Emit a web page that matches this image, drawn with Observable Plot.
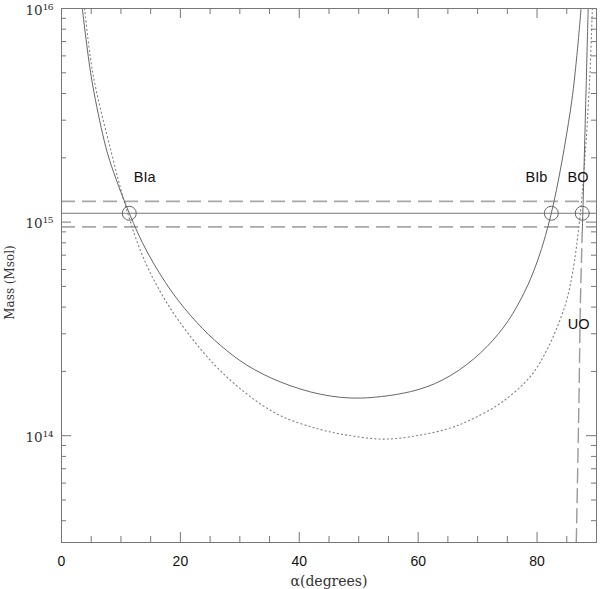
<!DOCTYPE html>
<html><head><meta charset="utf-8">
<script src="https://cdn.jsdelivr.net/npm/d3@7"></script>
<script src="https://cdn.jsdelivr.net/npm/@observablehq/plot@0.6"></script>
<style>body{margin:0;background:#fff}</style>
</head><body><div id="chart"></div>
<script>
// Bound-incoming solution curve (solid)
const bIncAlpha = [3.5, 5.0, 6.9, 8.1, 11.4, 14.4, 18.6, 22.8, 26.7, 31.2, 36.8, 43.6, 50.3, 59.8, 65.4, 70.5, 74.4, 77.2, 79.7, 82.4, 85.6, 86.7, 87.4];
const bIncMass  = [1e16, 4.80e15, 2.60e15, 1.945e15, 1.10e15, 7.26e14, 4.70e14, 3.38e14, 2.655e14, 2.138e14, 1.786e14, 1.563e14, 1.50e14, 1.637e14, 1.91e14, 2.443e14, 3.228e14, 4.315e14, 6.166e14, 1.10e15, 3.319e15, 6.026e15, 1e16];
// Dotted curve
const dotAlpha = [3.9, 5.25, 8.3, 11.1, 13.5, 16.2, 19.7, 25.6, 31.2, 36.8, 43.3, 48.6, 54.2, 59.8, 65.4, 68.8, 73.9, 78.9, 81.7, 83.96, 85.0, 86.0, 87.2, 88.2, 88.9, 89.3];
const dotMass  = [1e16, 5.01e15, 2.163e15, 1.109e15, 7.10e14, 4.955e14, 3.46e14, 2.168e14, 1.567e14, 1.242e14, 1.074e14, 1.0e14, 9.64e13, 1.0e14, 1.086e14, 1.186e14, 1.422e14, 1.897e14, 2.535e14, 3.54e14, 4.335e14, 5.848e14, 1.045e15, 2.286e15, 4.955e15, 1e16];
// Bound-outgoing (solid) and unbound-outgoing (dashed)
const bOutAlpha = [87.6, 87.7, 88.15, 88.6];
const bOutMass  = [8.9e14, 1.1e15, 3.31e15, 1e16];
const uOutAlpha = [86.6, 87.05, 87.3, 87.6];
const uOutMass  = [3.16e13, 1.46e14, 4.29e14, 8.9e14];
// Measured mass and 1-sigma band
const massCentral = 1.1e15;
const massBand = [9.5e14, 1.25e15];
// Solutions
const solNames = ["BIa", "BIb", "BO"];
const solAlpha = [11.4, 82.4, 87.6];
const solMass  = [1.1e15, 1.1e15, 1.1e15];
// Labels
const labText  = ["BIa", "BIb", "BO", "UO"];
const labAlpha = [14.0, 79.9, 86.9, 87.0];
const labMass  = [1.626e15, 1.626e15, 1.626e15, 3.33e14];
// Axes
const xDomain = [0, 90];
const yDomain = [3.162e13, 1e16];
const xMajor = [0, 20, 40, 60, 80];
const xMinor = [5, 10, 15, 25, 30, 35, 45, 50, 55, 65, 70, 75, 85];
const yMajor = [1e14, 1e15, 1e16];
const yMajorLabels = ["10¹⁴", "10¹⁵", "10¹⁶"];
const yMinor = [4e13, 5e13, 6e13, 7e13, 8e13, 9e13, 2e14, 3e14, 4e14, 5e14, 6e14, 7e14, 8e14, 9e14, 2e15, 3e15, 4e15, 5e15, 6e15, 7e15, 8e15, 9e15];
const xTitle = "α(degrees)";
const yTitle = "Mass (Msol)";

const zip = (a, m) => a.map((v, i) => ({a: v, m: m[i]}));
const solid = zip(bIncAlpha, bIncMass);
const dotted = zip(dotAlpha, dotMass);
const bOut = zip(bOutAlpha, bOutMass);
const uOut = zip(uOutAlpha, uOutMass);
const sols = solNames.map((n, i) => ({n, a: solAlpha[i], m: solMass[i]}));
const labs = labText.map((t, i) => ({t, a: labAlpha[i], m: labMass[i]}));

const H = 589, mT = 8, mB = 47, W = 600, mL = 61, mR = 4;
const fh = H - mT - mB, fw = W - mL - mR;
const axisCol = "#777";
const serif = "'DejaVu Serif', serif";

const chart = Plot.plot({
  width: W, height: H,
  marginLeft: mL, marginRight: mR, marginTop: mT, marginBottom: mB,
  x: {domain: xDomain},
  y: {type: "log", domain: yDomain},
  style: {fontFamily: "'Liberation Sans', Arial, sans-serif", background: "#fff", overflow: "visible"},
  marks: [
    Plot.ruleY(massBand, {stroke: "#a8a8a8", strokeWidth: 1.6, strokeDasharray: "14,7"}),
    Plot.ruleY([massCentral], {stroke: "#777", strokeWidth: 1}),
    Plot.line(dotted, {x: "a", y: "m", stroke: "#808080", strokeWidth: 1.1, strokeDasharray: "1.2,3", curve: "catmull-rom", clip: true}),
    Plot.line(solid, {x: "a", y: "m", stroke: "#666", strokeWidth: 1, curve: "catmull-rom", clip: true}),
    Plot.line(bOut, {x: "a", y: "m", stroke: "#666", strokeWidth: 1, curve: "catmull-rom", clip: true}),
    Plot.line(uOut, {x: "a", y: "m", stroke: "#999", strokeWidth: 1.4, strokeDasharray: "14,6", curve: "catmull-rom", clip: true}),
    Plot.dot(sols, {x: "a", y: "m", r: 7, stroke: "#666", strokeWidth: 1, fill: "none"}),
    Plot.text(labs, {x: "a", y: "m", text: "t", fontSize: 14.5, fill: "#111"}),
    // inward ticks on all four sides
    Plot.tickX(xMajor, {x: d => d, insetTop: fh - 10, stroke: axisCol}),
    Plot.tickX(xMinor, {x: d => d, insetTop: fh - 6, stroke: axisCol}),
    Plot.tickX(xMajor, {x: d => d, insetBottom: fh - 10, stroke: axisCol}),
    Plot.tickX(xMinor, {x: d => d, insetBottom: fh - 6, stroke: axisCol}),
    Plot.tickY(yMajor, {y: d => d, insetRight: fw - 10, stroke: axisCol}),
    Plot.tickY(yMinor, {y: d => d, insetRight: fw - 5, stroke: axisCol}),
    Plot.tickY(yMajor, {y: d => d, insetLeft: fw - 10, stroke: axisCol}),
    Plot.tickY(yMinor, {y: d => d, insetLeft: fw - 5, stroke: axisCol}),
    Plot.frame({stroke: axisCol, strokeWidth: 1}),
    Plot.axisX(xMajor, {tickSize: 0, tickPadding: 14, fontSize: 14, fill: "#111", label: null}),
    Plot.axisY(yMajor, {tickSize: 0, tickPadding: 8, dy: 2, fontSize: 13.5, fontFamily: serif, fill: "#333", label: null,
      tickFormat: d => yMajorLabels[yMajor.indexOf(d)]}),
    Plot.text([xTitle], {frameAnchor: "bottom", lineAnchor: "middle", textAnchor: "middle", dy: 39, fontFamily: serif, fontSize: 14, fill: "#333"}),
    Plot.text([yTitle], {frameAnchor: "left", lineAnchor: "middle", textAnchor: "middle", rotate: -90, dx: -51, dy: 7, fontFamily: serif, fontSize: 12, fill: "#333"})
  ]
});
document.getElementById("chart").appendChild(chart);
</script>
</body></html>
